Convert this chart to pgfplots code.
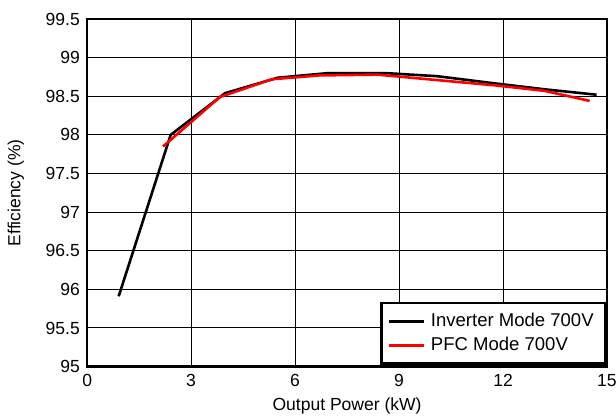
\documentclass[border=0pt]{standalone}
\usepackage{fontspec}
\setmainfont{Liberation Sans}
\usepackage{pgfplots}
\pgfplotsset{compat=1.18}

\begin{document}
\fontsize{18.5}{22}\selectfont
\begin{tikzpicture}
\begin{axis}[
  scale only axis,
  width=519pt, height=347pt,
  xmin=0, xmax=15, ymin=95, ymax=99.5,
  xtick={0,3,...,15},
  ytick={95,95.5,...,99.5},
  /pgf/number format/fixed,
  /pgf/number format/precision=1,
  /pgf/number format/assume math mode=true,
  ticklabel style={font=\fontsize{17.5}{20}\selectfont},
  label style={font=\fontsize{17.5}{20}\selectfont},
  tick style={draw=none},
  grid=major,
  major grid style={black, line width=1pt},
  axis line style={black, line width=2.6pt},
  xlabel={Output Power (kW)},
  ylabel={Efficiency (\%)},
  xlabel style={yshift=1pt},
  ylabel style={yshift=9pt},
  xticklabel style={yshift=-1pt},
  yticklabel style={xshift=-1pt},
  legend cell align=left,
  legend style={at={(rel axis cs:1,0.005)}, anchor=south east,
    draw=black, line width=2.6pt, font=\fontsize{18.5}{22}\selectfont,
    inner xsep=6pt, inner ysep=6pt, row sep=0pt,
    nodes={inner xsep=6pt, inner ysep=4pt}},
  legend image code/.code={\draw[#1, line width=2.6pt] (0cm,0cm) -- (35pt,0cm);},
]
\addplot[black, line width=2.6pt] coordinates {
  (0.91,95.91) (2.41,98.00) (3.98,98.54) (5.50,98.74) (6.96,98.80)
  (8.60,98.80) (10.10,98.76) (11.70,98.67) (13.20,98.59) (14.70,98.52)
};
\addlegendentry{Inverter Mode 700V}
\addplot[red, line width=2.6pt] coordinates {
  (2.19,97.85) (3.83,98.49) (5.33,98.72) (6.70,98.77) (8.37,98.78)
  (11.80,98.64) (13.20,98.57) (14.50,98.44)
};
\addlegendentry{PFC Mode 700V}
\end{axis}
\pgfresetboundingbox
\path ([shift={(-87pt,-49pt)}]current axis.south west) rectangle ([shift={(9pt,19pt)}]current axis.north east);
\end{tikzpicture}
\end{document}
